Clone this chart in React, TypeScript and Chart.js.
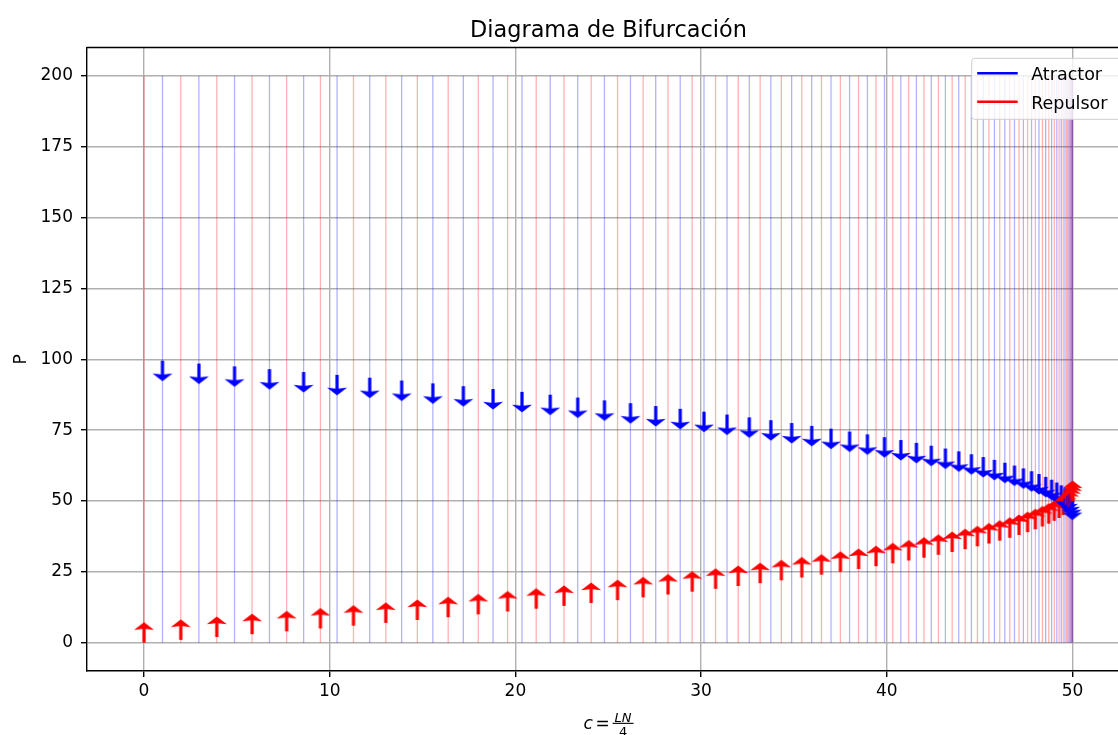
import React, { useEffect, useRef } from "react";
import { Chart, registerables } from "chart.js";

Chart.register(...registerables);

const TITLE = "Diagrama de Bifurcación";
const Y_LABEL = "P";
const LEGEND_LABELS = ["Atractor", "Repulsor"];

const X_TICKS = [0, 10, 20, 30, 40, 50];
const Y_TICKS = [0, 25, 50, 75, 100, 125, 150, 175, 200];

// visible x range (the plot continues a little beyond the right edge of the picture)
const X_RANGE = [-3.07, 52.45];
const Y_RANGE = [-10, 210];

// vertical guide lines span (P from .. to)
const LINE_SPAN = [0, 200];

// Repulsor (lower branch): c values and P values
const REPULSOR_C = [
  0, 1.98, 3.92, 5.82, 7.68, 9.5, 11.28, 13.02, 14.72, 16.38, 18, 19.58, 21.12,
  22.62, 24.08, 25.5, 26.88, 28.22, 29.52, 30.78, 32, 33.18, 34.32, 35.42, 36.48,
  37.5, 38.48, 39.42, 40.32, 41.18, 42, 42.78, 43.52, 44.22, 44.88, 45.5, 46.08,
  46.62, 47.12, 47.58, 48, 48.38, 48.72, 49.02, 49.28, 49.5, 49.68, 49.82, 49.92,
  49.98, 50,
];
const REPULSOR_P = [
  0, 1, 2, 3, 4, 5, 6, 7, 8, 9, 10, 11, 12, 13, 14, 15, 16, 17, 18, 19, 20, 21,
  22, 23, 24, 25, 26, 27, 28, 29, 30, 31, 32, 33, 34, 35, 36, 37, 38, 39, 40, 41,
  42, 43, 44, 45, 46, 47, 48, 49, 50,
];

// Atractor (upper branch): c values and P values
const ATRACTOR_C = [
  0.995, 2.955, 4.875, 6.755, 8.595, 10.395, 12.155, 13.875, 15.555, 17.195,
  18.795, 20.355, 21.875, 23.355, 24.795, 26.195, 27.555, 28.875, 30.155, 31.395,
  32.595, 33.755, 34.875, 35.955, 36.995, 37.995, 38.955, 39.875, 40.755, 41.595,
  42.395, 43.155, 43.875, 44.555, 45.195, 45.795, 46.355, 46.875, 47.355, 47.795,
  48.195, 48.555, 48.875, 49.155, 49.395, 49.595, 49.755, 49.875, 49.955, 49.995,
];
const ATRACTOR_P = [
  99.5, 98.5, 97.5, 96.5, 95.5, 94.5, 93.5, 92.5, 91.5, 90.5, 89.5, 88.5, 87.5,
  86.5, 85.5, 84.5, 83.5, 82.5, 81.5, 80.5, 79.5, 78.5, 77.5, 76.5, 75.5, 74.5,
  73.5, 72.5, 71.5, 70.5, 69.5, 68.5, 67.5, 66.5, 65.5, 64.5, 63.5, 62.5, 61.5,
  60.5, 59.5, 58.5, 57.5, 56.5, 55.5, 54.5, 53.5, 52.5, 51.5, 50.5,
];

const BLUE = "#0000ff";
const RED = "#ff0000";
const FONT = "DejaVu Sans";

function makeArrow(color: string, dir: number): HTMLCanvasElement {
  const W = 22;
  const H = 44;
  const cx = 11;
  const cy = 22;
  const c = document.createElement("canvas");
  c.width = W;
  c.height = H;
  const g = c.getContext("2d")!;
  g.fillStyle = color;
  const L = 20.4;
  const HL = 7.6;
  const HA = 6.6;
  const HW = 10;
  const SW = 1.6;
  const y = (d: number) => cy + dir * d;
  g.beginPath();
  g.moveTo(cx - SW, y(0));
  g.lineTo(cx - SW, y(L - HA));
  g.lineTo(cx - HW, y(L - HL));
  g.lineTo(cx, y(L));
  g.lineTo(cx + HW, y(L - HL));
  g.lineTo(cx + SW, y(L - HA));
  g.lineTo(cx + SW, y(0));
  g.closePath();
  g.fill();
  return c;
}

const vlines = (cs: number[]) =>
  cs.flatMap((c) => [
    { x: c, y: LINE_SPAN[0] },
    { x: c, y: LINE_SPAN[1] },
    { x: c, y: null as any },
  ]);

const decorPlugin = {
  id: "decor",
  afterDraw(chart: any) {
    const { ctx, chartArea: a } = chart;
    ctx.save();
    // top spine (right spine lies outside the picture)
    ctx.strokeStyle = "#000";
    ctx.lineWidth = 1.4;
    ctx.beginPath();
    ctx.moveTo(a.left, a.top);
    ctx.lineTo(chart.width + 20, a.top);
    ctx.stroke();

    // centre of the full axes box (which extends past the picture edge)
    const cxm = a.left + 521.5;

    // title
    ctx.fillStyle = "#000";
    ctx.font = `22.4px "${FONT}"`;
    ctx.textAlign = "center";
    ctx.textBaseline = "alphabetic";
    ctx.fillText(TITLE, cxm, a.top - 10.2);

    // y label
    ctx.save();
    ctx.translate(26, (a.top + a.bottom) / 2);
    ctx.rotate(-Math.PI / 2);
    ctx.font = `17px "${FONT}"`;
    ctx.fillText(Y_LABEL, 0, 0);
    ctx.restore();

    // x label: c = LN/4
    const base = a.bottom + 58.3;
    ctx.textAlign = "left";
    ctx.font = `italic 17px "${FONT}"`;
    const wc = ctx.measureText("c").width;
    ctx.font = `17px "${FONT}"`;
    const weq = ctx.measureText("=").width;
    ctx.font = `italic 13px "${FONT}"`;
    const wnum = ctx.measureText("LN").width;
    ctx.font = `13px "${FONT}"`;
    const wden = ctx.measureText("4").width;
    const gap = 2.8;
    const fracW = Math.max(wnum, wden) + 4;
    const total = wc + gap + weq + gap + fracW;
    let x = cxm - total / 2;
    ctx.font = `italic 17px "${FONT}"`;
    ctx.fillText("c", x, base);
    x += wc + gap;
    ctx.font = `17px "${FONT}"`;
    ctx.fillText("=", x, base);
    x += weq + gap;
    const barY = base - 6;
    ctx.fillRect(x, barY - 0.5, fracW, 1.1);
    ctx.textAlign = "center";
    ctx.font = `italic 13px "${FONT}"`;
    ctx.fillText("LN", x + fracW / 2, barY - 1.8);
    ctx.font = `13px "${FONT}"`;
    ctx.fillText("4", x + fracW / 2, barY + 12.5);

    // legend
    const lx = 971.7;
    const ly = a.top + 10.8;
    const lw = chart.width + 30 - lx;
    const lh = 61;
    ctx.beginPath();
    ctx.roundRect(lx, ly, lw, lh, 3);
    ctx.fillStyle = "rgba(255,255,255,0.8)";
    ctx.fill();
    ctx.strokeStyle = "#cccccc";
    ctx.lineWidth = 1;
    ctx.stroke();
    const rows = [
      { label: LEGEND_LABELS[0], color: BLUE, y: ly + 15 },
      { label: LEGEND_LABELS[1], color: RED, y: ly + 43.4 },
    ];
    ctx.textAlign = "left";
    ctx.font = `17.5px "${FONT}"`;
    for (const r of rows) {
      ctx.strokeStyle = r.color;
      ctx.lineWidth = 2.4;
      ctx.beginPath();
      ctx.moveTo(lx + 5.5, r.y);
      ctx.lineTo(lx + 46, r.y);
      ctx.stroke();
      ctx.fillStyle = "#000";
      ctx.fillText(r.label, lx + 59.5, r.y + 7);
    }
    ctx.restore();
  },
};

export default function App() {
  const ref = useRef<HTMLCanvasElement>(null);
  useEffect(() => {
    const up = makeArrow(RED, -1);
    const down = makeArrow(BLUE, 1);
    const arrowData: { x: number; y: number }[] = [];
    const arrowStyles: HTMLCanvasElement[] = [];
    for (let i = 0; i < REPULSOR_C.length; i++) {
      arrowData.push({ x: REPULSOR_C[i], y: REPULSOR_P[i] });
      arrowStyles.push(up);
      if (i < ATRACTOR_C.length) {
        arrowData.push({ x: ATRACTOR_C[i], y: ATRACTOR_P[i] });
        arrowStyles.push(down);
      }
    }

    const tickFont = { size: 17, family: FONT };
    const chart = new Chart(ref.current!, {
      type: "scatter",
      data: {
        datasets: [
          {
            label: "arrows",
            data: arrowData,
            pointStyle: arrowStyles as any,
            pointRadius: 1,
            order: 0,
          },
          {
            label: "Atractor",
            data: vlines(ATRACTOR_C),
            showLine: true,
            spanGaps: false,
            borderColor: "rgba(0,0,255,0.3)",
            borderWidth: 1.3,
            pointRadius: 0,
            order: 1,
          },
          {
            label: "Repulsor",
            data: vlines(REPULSOR_C),
            showLine: true,
            spanGaps: false,
            borderColor: "rgba(255,0,0,0.3)",
            borderWidth: 1.3,
            pointRadius: 0,
            order: 1,
          },
        ],
      } as any,
      options: {
        responsive: false,
        animation: false,
        events: [],
        layout: {
          autoPadding: false,
          padding: { top: 47.5, left: 0, right: 0, bottom: 0 },
        },
        plugins: {
          legend: { display: false },
          title: { display: false },
          tooltip: { enabled: false },
        },
        scales: {
          x: {
            type: "linear",
            position: "bottom",
            min: X_RANGE[0],
            max: X_RANGE[1],
            afterBuildTicks: (s: any) => {
              s.ticks = X_TICKS.map((v) => ({ value: v }));
            },
            afterFit: (s: any) => {
              s.height = 64;
              s.paddingLeft = 0;
              s.paddingRight = 0;
            },
            grid: {
              color: "#b0b0b0",
              lineWidth: 1.4,
              tickColor: "#000",
              tickLength: 6,
              tickWidth: 1.4,
            },
            border: { color: "#000", width: 1.4 },
            ticks: {
              color: "#000",
              font: tickFont,
              padding: 4,
              maxRotation: 0,
              autoSkip: false,
            },
          },
          y: {
            type: "linear",
            min: Y_RANGE[0],
            max: Y_RANGE[1],
            afterBuildTicks: (s: any) => {
              s.ticks = Y_TICKS.map((v) => ({ value: v }));
            },
            afterFit: (s: any) => {
              s.width = 87;
              s.paddingTop = 0;
              s.paddingBottom = 0;
            },
            grid: {
              color: "#b0b0b0",
              lineWidth: 1.4,
              tickColor: "#000",
              tickLength: 6,
              tickWidth: 1.4,
            },
            border: { color: "#000", width: 1.4 },
            ticks: {
              color: "#000",
              font: tickFont,
              padding: 8,
              autoSkip: false,
            },
          },
        },
      } as any,
      plugins: [decorPlugin],
    });
    return () => chart.destroy();
  }, []);

  return (
    <div
      style={{
        position: "fixed",
        left: 0,
        top: 0,
        width: 1118,
        height: 735,
        overflow: "hidden",
        background: "#fff",
      }}
    >
      <canvas
        ref={ref}
        width={1118}
        height={735}
        style={{ display: "block", width: 1118, height: 735 }}
      />
    </div>
  );
}
